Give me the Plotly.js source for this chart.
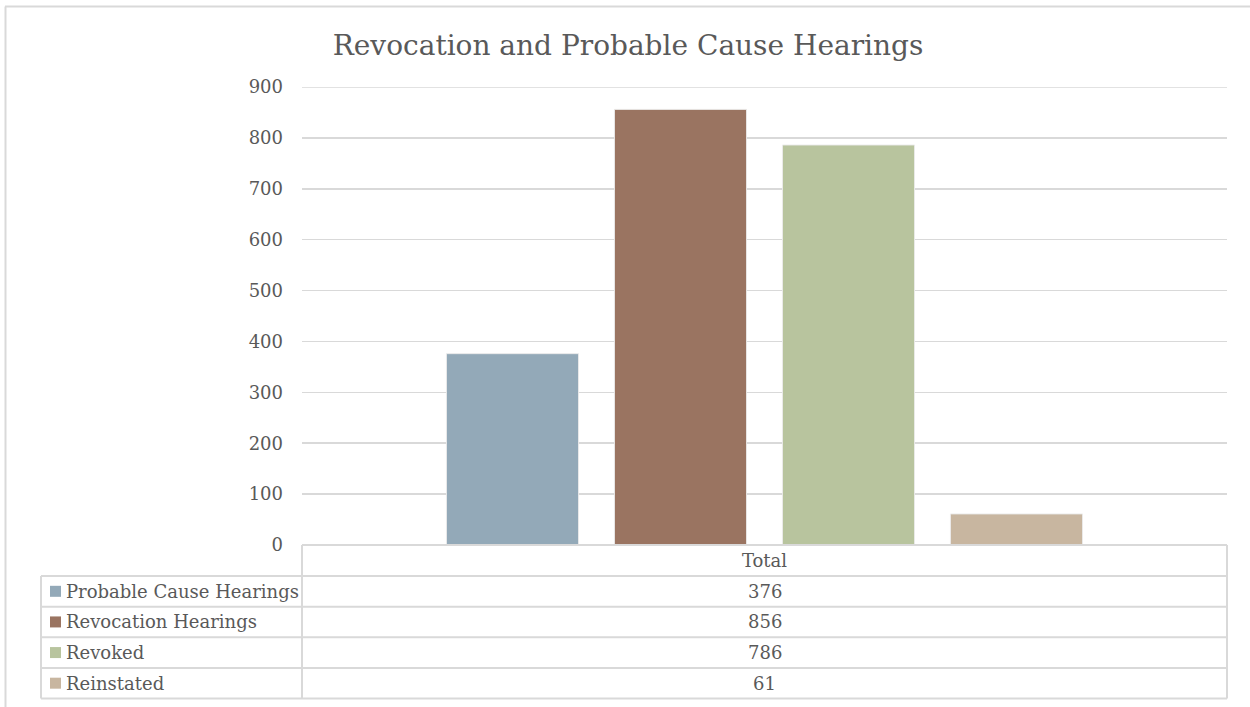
<!DOCTYPE html>
<html>
<head>
<meta charset="utf-8">
<script src="https://cdn.plot.ly/plotly-3.0.1.min.js"></script>
<style>
  html, body { margin: 0; padding: 0; background: #ffffff; }
  #chart { width: 1250px; height: 707px; }
</style>
</head>
<body>
<div id="chart"></div>
<script>
// ---- data ----
const categories = ['Total'];
const seriesNames = ['Probable Cause Hearings', 'Revocation Hearings', 'Revoked', 'Reinstated'];
const seriesValues = [376, 856, 786, 61];
const seriesColors = ['#93a9b8', '#9a7461', '#b8c49e', '#c8b6a0'];
const yTicks = [0, 100, 200, 300, 400, 500, 600, 700, 800, 900];

// ---- layout constants ----
const W = 1250, H = 707;
const M = { l: 302, r: 23, t: 87, b: 162 };
const PW = W - M.l - M.r, PH = H - M.t - M.b;
const X = px => (px - M.l) / PW;
const Y = py => (H - M.b - py) / PH;
const FONT = 'DejaVu Serif, Liberation Serif, serif';
const TXT = '#595959';
const GRID = '#d9d9d9';
const FS = 18;

const traces = seriesNames.map((n, i) => ({
  type: 'bar',
  name: n,
  x: categories,
  y: [seriesValues[i]],
  marker: { color: seriesColors[i], line: { color: 'rgba(235,235,235,0.9)', width: 1 } },
  hoverinfo: 'y+name'
}));

// table geometry
const tblLeft = 41, tblRight = W - M.r, colSplit = M.l;
const headTop = H - M.b, headBottom = 576, tblBottom = 698.5;
const rowH = (tblBottom - headBottom) / seriesNames.length;

const shapes = [];
const annotations = [];
const line = { color: GRID, width: 2 };

// top gridline (at range end, not drawn by the axis)
shapes.push({ type: 'line', xref: 'paper', yref: 'y', x0: 0, x1: 1, y0: yTicks[yTicks.length - 1], y1: yTicks[yTicks.length - 1], line: { color: GRID, width: 1.5 }, layer: 'below' });

// outer frame
shapes.push({ type: 'line', xref: 'paper', yref: 'paper', x0: X(5), x1: X(1260), y0: Y(6.5), y1: Y(6.5), line: { color: '#d9d9d9', width: 2 } });
shapes.push({ type: 'line', xref: 'paper', yref: 'paper', x0: X(5.5), x1: X(5.5), y0: Y(6.5), y1: Y(720), line: { color: '#d9d9d9', width: 2 } });

// header row verticals
shapes.push({ type: 'line', xref: 'paper', yref: 'paper', x0: X(colSplit), x1: X(colSplit), y0: Y(headTop), y1: Y(tblBottom), line });
shapes.push({ type: 'line', xref: 'paper', yref: 'paper', x0: X(tblRight), x1: X(tblRight), y0: Y(headTop), y1: Y(tblBottom), line });
shapes.push({ type: 'line', xref: 'paper', yref: 'paper', x0: X(tblLeft), x1: X(tblLeft), y0: Y(headBottom), y1: Y(tblBottom), line });
// top line of header (axis baseline)
shapes.push({ type: 'line', xref: 'paper', yref: 'paper', x0: X(colSplit), x1: X(tblRight), y0: Y(headTop), y1: Y(headTop), line });
// row lines
for (let i = 0; i <= seriesNames.length; i++) {
  const yy = headBottom + i * rowH;
  shapes.push({ type: 'line', xref: 'paper', yref: 'paper', x0: X(tblLeft), x1: X(tblRight), y0: Y(yy), y1: Y(yy), line });
}

// rows: legend key, label, value
seriesNames.forEach((n, i) => {
  const cy = headBottom + (i + 0.5) * rowH;
  shapes.push({ type: 'rect', xref: 'paper', yref: 'paper', x0: X(50), x1: X(61), y0: Y(cy - 5.5), y1: Y(cy + 5.5), fillcolor: seriesColors[i], line: { width: 0 } });
  annotations.push({ xref: 'paper', yref: 'paper', x: X(64), y: Y(cy), xanchor: 'left', yanchor: 'middle', showarrow: false, text: n, font: { family: FONT, size: FS, color: TXT } });
  annotations.push({ xref: 'paper', yref: 'paper', x: X((colSplit + tblRight) / 2), y: Y(cy), xanchor: 'center', yanchor: 'middle', showarrow: false, text: String(seriesValues[i]), font: { family: FONT, size: FS, color: TXT } });
});

const layout = {
  width: W, height: H,
  margin: M,
  paper_bgcolor: '#ffffff', plot_bgcolor: '#ffffff',
  title: { text: 'Revocation and Probable Cause Hearings', xref: 'container', yref: 'container', x: 628 / W, y: 1 - 45 / H, xanchor: 'center', yanchor: 'middle', font: { family: FONT, size: 28, color: TXT } },
  showlegend: false,
  barmode: 'group',
  bargap: 0.2735,
  bargroupgap: 0.214,
  xaxis: { type: 'category', showgrid: false, zeroline: false, showline: false, ticks: '', ticklabelstandoff: 3, tickfont: { family: FONT, size: FS, color: TXT }, fixedrange: true },
  yaxis: { range: [0, 900], tickvals: yTicks, ticktext: yTicks.map(String), showgrid: true, gridcolor: GRID, gridwidth: 1.5, zeroline: false, showline: false, ticks: '', ticklabelstandoff: 18, tickfont: { family: FONT, size: FS, color: TXT }, fixedrange: true },
  shapes, annotations
};

Plotly.newPlot('chart', traces, layout, { displayModeBar: false, staticPlot: true });
</script>
</body>
</html>
